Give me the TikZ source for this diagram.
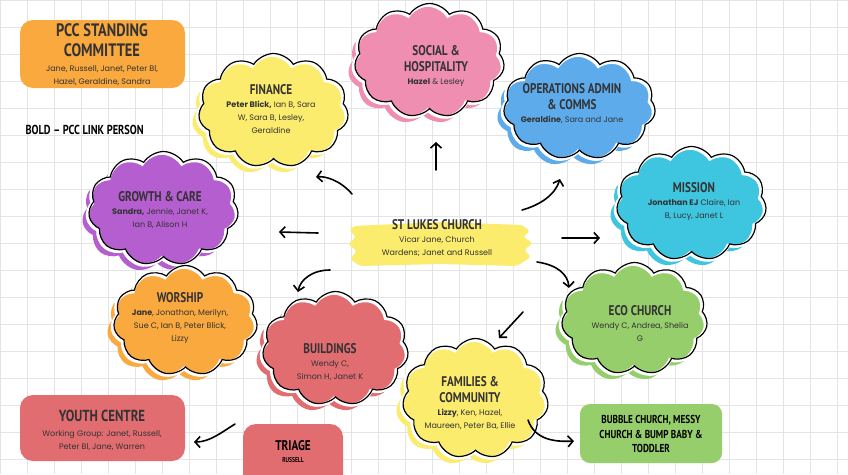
\documentclass[tikz,border=0pt]{standalone}
\usepackage{fontspec}
\setmainfont{Poppins}
\newfontfamily\titlefont{PT Sans}[FakeStretch=0.8]
\usetikzlibrary{shapes.symbols,arrows.meta}
\definecolor{cOrange}{HTML}{F9A93E}
\definecolor{cYellow}{HTML}{FCEC6D}
\definecolor{cPink}{HTML}{F08EB1}
\definecolor{cBlue}{HTML}{5EABEC}
\definecolor{cCyan}{HTML}{3EC5DF}
\definecolor{cPurple}{HTML}{B45ED0}
\definecolor{cRed}{HTML}{E26D71}
\definecolor{cGreen}{HTML}{97CE6C}
\definecolor{cText}{HTML}{333333}
\definecolor{cGrid}{HTML}{E4E4E4}
\newcommand\ttl{\titlefont\bfseries\fontsize{14}{16}\selectfont}
\newcommand\bigttl{\titlefont\bfseries\fontsize{18}{19}\selectfont}
\newcommand\mkcloud[6]{%
  \node[cloudbase, fill=#6, minimum width=#4pt, minimum height=#5pt] at (#2-5,#3+5) {};
  \node[cloudbase, fill=#6, draw=white, line width=3.5pt, minimum width=#4pt, minimum height=#5pt] (#1) at (#2,#3) {};
  \node[cloudbase, draw=black, line width=1.2pt, minimum width=#4pt, minimum height=#5pt] at (#2+1.5,#3-1.5) {};
}
\tikzset{
  cloudbase/.style={cloud, cloud puffs=11, cloud puff arc=115, cloud ignores aspect, inner sep=0pt},
  txt/.style={align=center, text=cText, font=\fontsize{8}{13}\selectfont},
  box/.style={rounded corners=13pt, draw=none},
  arr/.style={line width=1.6pt, line cap=round, -{Straight Barb[length=5pt,width=11pt]}},
}
\begin{document}
\begin{tikzpicture}[x=1pt,y=-1pt]
\useasboundingbox (0,0) rectangle (848,474);
\fill[white] (0,0) rectangle (848,474);
\draw[cGrid, line width=0.6pt] (0,0) grid[step=27pt] (848,474);

% PCC standing committee
\fill[cOrange, box] (20,20) rectangle (185,88);
\node[txt] (pcc) at (102,55) {{\bigttl PCC STANDING}\\[6pt] {\bigttl COMMITTEE}\\[2pt] Jane, Russell, Janet, Peter Bl,\\ Hazel, Geraldine, Sandra};
\node[anchor=west, font=\titlefont\bfseries\fontsize{13}{14}\selectfont] (bold) at (22,130) {BOLD – PCC LINK PERSON};

% clouds
\mkcloud{fin}{272}{112}{150}{114}{cYellow}
\node[txt] (fin-t) at (271,109) {{\ttl FINANCE}\\ {\bfseries Peter Blick,} Ian B, Sara\\ W, Sara B, Lesley,\\ Geraldine};

\mkcloud{soc}{428}{62}{150}{114}{cPink}
\node[txt] (soc-t) at (436,66) {{\ttl SOCIAL \&}\\[3pt] {\ttl HOSPITALITY}\\ {\bfseries Hazel} \& Lesley};

\mkcloud{ops}{578}{108}{152}{106}{cBlue}
\node[txt] (ops-t) at (572,104) {{\ttl OPERATIONS ADMIN}\\[3pt] {\ttl \& COMMS}\\ {\bfseries Geraldine}, Sara and Jane};

\mkcloud{mis}{690}{205}{150}{114}{cCyan}
\node[txt] (mis-t) at (694,202) {{\ttl MISSION}\\ {\bfseries Jonathan EJ} Claire, Ian\\ B, Lucy, Janet L};

\mkcloud{gro}{162}{210}{150}{114}{cPurple}
\node[txt] (gro-t) at (160,210) {{\ttl GROWTH \& CARE}\\ {\bfseries Sandra,} Jennie, Janet K,\\ Ian B, Alison H};

\mkcloud{wor}{184}{322}{144}{110}{cOrange}
\node[txt] (wor-t) at (180,318) {{\ttl WORSHIP}\\ {\bfseries Jane}, Jonathan, Merilyn,\\ Sue C, Ian B, Peter Blick,\\ Lizzy};

\mkcloud{bui}{334}{350}{146}{114}{cRed}
\node[txt] (bui-t) at (330,362) {{\ttl BUILDINGS}\\ Wendy C,\\ Simon H, Janet K};

\mkcloud{eco}{633}{320}{146}{112}{cGreen}
\node[txt] (eco-t) at (640,324) {{\ttl ECO CHURCH}\\ Wendy C, Andrea, Shelia\\ G};

\mkcloud{fam}{474}{400}{146}{120}{cYellow}
\node[txt] (fam-t) at (470,403) {{\ttl FAMILIES \&}\\[3pt] {\ttl COMMUNITY}\\ {\bfseries Lizzy}, Ken, Hazel,\\ Maureen, Peter Ba, Ellie};

% St Lukes church brush stroke
\fill[cYellow, rounded corners=3pt] (354,226) -- (440,222) -- (522,225) -- (530,231) -- (523,237) -- (533,243) -- (524,250) -- (531,257) -- (517,266) -- (440,264) -- (360,266) -- (350,259) -- (357,251) -- (348,244) -- (356,237) -- (349,230) -- cycle;
\node[txt] (church) at (437,238) {{\ttl ST LUKES CHURCH}\\ Vicar Jane, Church\\ Wardens; Janet and Russell};

% Youth centre, triage, bubble church
\fill[cRed, box] (20,395) rectangle (185,461);
\node[txt] (youth) at (102,430) {{\titlefont\bfseries\fontsize{16}{17}\selectfont YOUTH CENTRE}\\[2pt] Working Group: Janet, Russell,\\ Peter Bl, Jane, Warren};
\fill[cRed, box] (243,424) rectangle (343,490);
\node[align=center, text=black] (triage) at (293,452) {{\ttl TRIAGE}\\ {\titlefont\bfseries\fontsize{7}{8}\selectfont RUSSELL}};
\fill[cGreen, box, rounded corners=10pt] (580,404) rectangle (722,463);
\node[align=center, font=\titlefont\bfseries\fontsize{11.5}{14.5}\selectfont] (bubble) at (651,434) {BUBBLE CHURCH, MESSY\\ CHURCH \& BUMP BABY \&\\ TODDLER};

% arrows
\coordinate (u1) at (436,170); \coordinate (u2) at (436,142);
\draw[arr] (u1) -- (u2);
\coordinate (f1) at (352,194); \coordinate (f2) at (316,177);
\draw[arr] (f1) .. controls (340,180) and (325,176) .. (f2);
\coordinate (g1) at (318,233); \coordinate (g2) at (279,232);
\draw[arr] (g1) -- (g2);
\coordinate (o1) at (522,210); \coordinate (o2) at (560,179);
\draw[arr] (o1) .. controls (540,205) and (555,195) .. (o2);
\coordinate (m1) at (562,238); \coordinate (m2) at (600,238);
\draw[arr] (m1) -- (m2);
\coordinate (e1) at (537,262); \coordinate (e2) at (569,288);
\draw[arr] (e1) .. controls (558,265) and (568,275) .. (e2);
\coordinate (c1) at (523,312); \coordinate (c2) at (499,338);
\draw[arr] (c1) -- (c2);
\coordinate (b1) at (330,270); \coordinate (b2) at (298,292);
\draw[arr] (b1) .. controls (312,270) and (300,280) .. (b2);
\coordinate (t1) at (235,424); \coordinate (t2) at (194,442);
\draw[arr] (t1) .. controls (222,432) and (210,442) .. (t2);
\coordinate (h1) at (528,420); \coordinate (h2) at (574,441);
\draw[arr] (h1) .. controls (535,440) and (555,442) .. (h2);
\end{tikzpicture}
\end{document}
